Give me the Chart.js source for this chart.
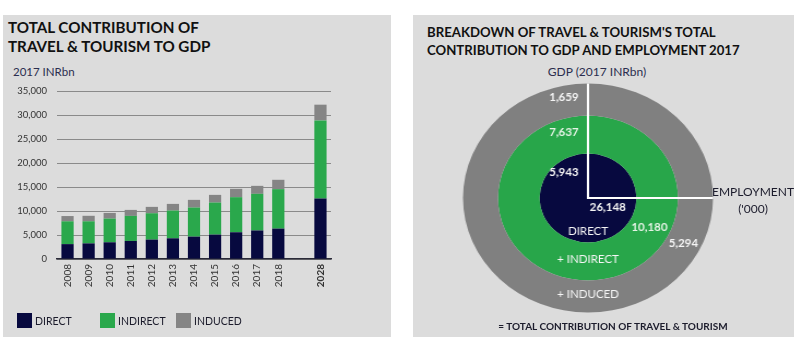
<!DOCTYPE html>
<html>
<head>
<meta charset="utf-8">
<script src="https://cdn.jsdelivr.net/npm/chart.js@4.4.0/dist/chart.umd.min.js"></script>
<style>
  body { margin: 0; width: 800px; height: 341px; overflow: hidden; background: #fff; font-family: Lato, sans-serif; }
  .panel { position: absolute; background: #dcdcdc; overflow: hidden; }
  .title { position: absolute; font-weight: bold; color: #111; white-space: nowrap; }
  .note { position: absolute; font-size: 11.5px; color: #2b2e4f; white-space: nowrap; }
  .legend { position: absolute; left: 14px; top: 298px; font-size: 10.5px; color: #1c1c2c; }
  .legend span.box { position: absolute; width: 15px; height: 15px; top: 0; }
  .legend span.lbl { position: absolute; top: 1px; line-height: 14px; white-space: nowrap; }
  canvas { position: absolute; }
</style>
</head>
<body>

<div class="panel" style="left:3px; top:15px; width:388px; height:322px;">
  <div class="title" style="left:5px; top:3px; font-size:15.2px; line-height:19px;">TOTAL CONTRIBUTION OF<br>TRAVEL &amp; TOURISM TO GDP</div>
  <div class="note" style="left:10px; top:50px;">2017 INRbn</div>
  <canvas id="barChart" width="388" height="322" style="left:0; top:0;"></canvas>
  <div class="legend" id="legend"></div>
</div>

<div class="panel" style="left:413px; top:15px; width:381px; height:322px;">
  <div class="title" style="left:14px; top:7.5px; font-size:13.2px; line-height:18px;">BREAKDOWN OF TRAVEL &amp; TOURISM'S TOTAL<br>CONTRIBUTION TO GDP AND EMPLOYMENT 2017</div>
  <div class="note" style="left:184px; top:49px; transform:translateX(-50%); font-size:12px;">GDP (2017 INRbn)</div>
  <canvas id="ringChart" width="240" height="240" style="left:55px; top:62.5px; transform:scaleX(1.092); transform-origin:50% 50%;"></canvas>
  <div class="note" style="left:340px; top:168px; transform:translateX(-50%); text-align:center; font-size:12px; line-height:17px; color:#1c1c2c;">EMPLOYMENT<br>('000)</div>
  <div class="note" style="left:200px; top:305px; transform:translateX(-50%); font-size:10px; font-weight:bold; color:#1c1c2c;">= TOTAL CONTRIBUTION OF TRAVEL &amp; TOURISM</div>
</div>

<script>
// data
const years = ['2008', '2009', '2010', '2011', '2012', '2013', '2014', '2015', '2016', '2017', '2018', '', '2028']
const direct = [3100, 3250, 3480, 3760, 4040, 4310, 4660, 5080, 5570, 5943, 6330, null, 12600]
const indirect = [4750, 4600, 4940, 5220, 5490, 5780, 6060, 6680, 7310, 7637, 8220, null, 16280]
const induced = [1100, 1150, 1180, 1250, 1330, 1390, 1600, 1600, 1740, 1659, 1950, null, 3270]
const yTicks = [0, 5000, 10000, 15000, 20000, 25000, 30000, 35000]

// breakdown 2017, inner ring first
const ringNames = ['DIRECT', '+ INDIRECT', '+ INDUCED']
const gdpValues = [5943, 7637, 1659]
const employmentValues = [26148, 10180, 5294]

const seriesNames = ['DIRECT', 'INDIRECT', 'INDUCED']
const colors = ['#07093f', '#2aa84c', '#858585']
const ringColors = ['#07093f', '#28a64a', '#808080']
const ringWeights = [44.4, 38, 32.1]

Chart.defaults.font.family = 'Lato'
Chart.defaults.animation = false

/////////////////////////////////
// bar chart
/////////////////////////////////
const barChart = new Chart(document.getElementById('barChart'), {
  type: 'bar',
  data: {
    labels: years,
    datasets: [direct, indirect, induced].map((vals, i) => ({
      label: seriesNames[i],
      data: vals,
      backgroundColor: colors[i],
      barPercentage: 0.58,
      categoryPercentage: 1
    }))
  },
  options: {
    responsive: false,
    layout: { padding: { top: 76, right: 60, bottom: 38, left: 0 } },
    plugins: { legend: { display: false }, tooltip: { enabled: false } },
    scales: {
      x: {
        stacked: true,
        grid: { display: false, drawTicks: false },
        border: { color: '#2a2a38', width: 1.5 },
        ticks: {
          autoSkip: false,
          minRotation: 90,
          maxRotation: 90,
          padding: 5,
          color: '#333',
          font: ctx => ({ size: 10, weight: years[ctx.index] === '2028' ? 'bold' : 'normal' })
        },
        afterFit: scale => { scale.height = 40 }
      },
      y: {
        stacked: true,
        min: 0,
        max: 35000,
        afterBuildTicks: scale => { scale.ticks = yTicks.map(v => ({ value: v })) },
        grid: { color: '#8a8a8a', drawTicks: false },
        border: { display: false },
        ticks: {
          padding: 10,
          color: '#333',
          font: { size: 9.5 },
          callback: v => v.toLocaleString('en-US')
        },
        afterFit: scale => { scale.width = 54 }
      }
    }
  }
})

// legend
let legendHtml = ''
const legendX = [0, 83, 159]
seriesNames.forEach((name, i) => {
  legendHtml += `
    <span class="box" style="left:${legendX[i]}px; background:${colors[i]}"></span>
    <span class="lbl" style="left:${legendX[i] + 18}px">${name}</span>
  `
})
document.getElementById('legend').innerHTML = legendHtml

/////////////////////////////////
// nested rings
/////////////////////////////////
const STRETCH = 1.092
const fmt = v => v.toLocaleString('en-US')

const drawText = (c, s, x, y, font, color) => {
  c.save()
  c.translate(x, y)
  c.scale(1 / STRETCH, 1)
  c.font = font
  c.fillStyle = color
  c.textAlign = 'center'
  c.textBaseline = 'middle'
  c.fillText(s, 0, 0)
  c.restore()
}

const ringLabels = {
  id: 'ringLabels',
  afterDatasetsDraw(chart) {
    const c = chart.ctx
    const n = ringNames.length
    const outer = chart.getDatasetMeta(0).data[0]
    const cx = outer.x, cy = outer.y, R = outer.outerRadius

    c.save()
    c.strokeStyle = '#ffffff'
    c.lineWidth = 2
    c.beginPath()
    c.moveTo(cx, cy - R)
    c.lineTo(cx, cy)
    c.lineTo(cx + R, cy)
    c.stroke()
    c.restore()

    const ang = 27.5 * Math.PI / 180
    for (let k = 0; k < n; k++) {
      // dataset 0 is the outer ring, so ring k sits in dataset n-1-k
      const arc = chart.getDatasetMeta(n - 1 - k).data[0]
      const mid = (arc.innerRadius + arc.outerRadius) / 2
      const inner = arc.innerRadius < 1
      const rTop = inner ? arc.outerRadius * 0.58 : mid + 2
      const rBottom = inner ? arc.outerRadius * 0.75 : mid - 2
      const rDiag = inner ? arc.outerRadius * 0.46 : mid
      const tint = k === 1 ? '#e6f4e6' : '#f4f4f4'
      drawText(c, fmt(gdpValues[k]), cx - 22, cy - rTop, 'bold 11.5px Lato', tint)
      drawText(c, fmt(employmentValues[k]), cx + rDiag * Math.cos(ang), cy + rDiag * Math.sin(ang), 'bold 11.5px Lato', tint)
      drawText(c, ringNames[k], cx, cy + rBottom, '11.5px Lato', '#f6f6f6')
    }
  }
}

const ringChart = new Chart(document.getElementById('ringChart'), {
  type: 'doughnut',
  data: {
    labels: ['2017'],
    datasets: ringNames.map((name, k) => ({
      label: name,
      data: [gdpValues[k]],
      backgroundColor: ringColors[k],
      weight: ringWeights[k],
      borderWidth: 0,
      hoverOffset: 0,
      offset: 0
    })).reverse()
  },
  options: {
    responsive: false,
    cutout: 0,
    layout: { padding: 5.5 },
    plugins: { legend: { display: false }, tooltip: { enabled: false } }
  },
  plugins: [ringLabels]
})
</script>
</body>
</html>
